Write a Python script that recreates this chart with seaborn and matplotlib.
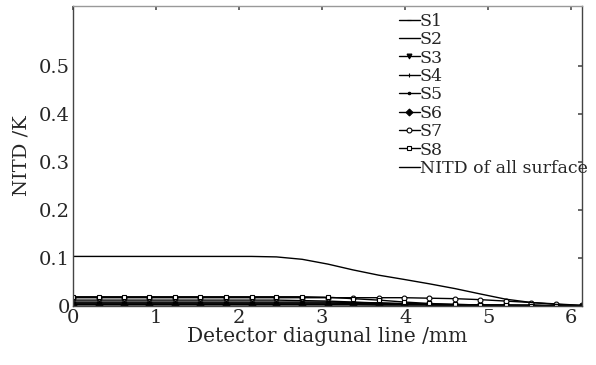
import numpy as np
import pandas as pd
import matplotlib
matplotlib.use('Agg')
import matplotlib.pyplot as plt
import seaborn as sns
from matplotlib.ticker import FormatStrFormatter

# detector diagonal positions (mm)
pos = [0.0, 0.31, 0.61, 0.92, 1.23, 1.53, 1.84, 2.15, 2.45, 2.76, 3.07,
       3.37, 3.68, 3.99, 4.29, 4.60, 4.90, 5.21, 5.52, 5.82, 6.13]

s1 = [0.012, 0.012, 0.012, 0.012, 0.012, 0.012, 0.012, 0.012, 0.012, 0.011, 0.010,
      0.008, 0.006, 0.004, 0.003, 0.002, 0.001, 0.001, 0.000, 0.000, 0.000]
s2 = [0.006, 0.006, 0.006, 0.006, 0.006, 0.006, 0.006, 0.006, 0.006, 0.006, 0.006,
      0.005, 0.005, 0.004, 0.003, 0.002, 0.001, 0.001, 0.001, 0.000, 0.000]
s3 = [0.004, 0.004, 0.004, 0.004, 0.004, 0.004, 0.004, 0.004, 0.004, 0.004, 0.004,
      0.004, 0.003, 0.003, 0.003, 0.002, 0.002, 0.001, 0.001, 0.000, 0.000]
s4 = [0.008, 0.008, 0.008, 0.008, 0.008, 0.008, 0.008, 0.008, 0.008, 0.008, 0.008,
      0.007, 0.006, 0.005, 0.004, 0.003, 0.002, 0.001, 0.001, 0.000, 0.000]
s5 = [0.003, 0.003, 0.003, 0.003, 0.003, 0.003, 0.003, 0.003, 0.003, 0.003, 0.003,
      0.003, 0.002, 0.002, 0.002, 0.001, 0.001, 0.001, 0.001, 0.001, 0.000]
s6 = [0.002, 0.002, 0.002, 0.002, 0.002, 0.002, 0.002, 0.002, 0.002, 0.002, 0.002,
      0.002, 0.002, 0.002, 0.002, 0.001, 0.001, 0.001, 0.001, 0.000, 0.000]
s7 = [0.017, 0.017, 0.017, 0.017, 0.017, 0.017, 0.017, 0.017, 0.017, 0.017, 0.017,
      0.017, 0.017, 0.017, 0.016, 0.015, 0.013, 0.010, 0.007, 0.004, 0.001]
s8 = [0.019, 0.019, 0.019, 0.019, 0.019, 0.019, 0.019, 0.019, 0.019, 0.019, 0.018,
      0.015, 0.012, 0.008, 0.005, 0.003, 0.002, 0.001, 0.000, 0.000, 0.000]
nitd_all = [0.103, 0.103, 0.103, 0.103, 0.103, 0.103, 0.103, 0.103, 0.102, 0.097, 0.087,
            0.075, 0.064, 0.055, 0.046, 0.036, 0.025, 0.014, 0.007, 0.003, 0.001]

series = {
    'S1': (s1, '_'),
    'S2': (s2, None),
    'S3': (s3, 'v'),
    'S4': (s4, '|'),
    'S5': (s5, '.'),
    'S6': (s6, 'D'),
    'S7': (s7, 'o'),
    'S8': (s8, 's'),
    'NITD of all surface': (nitd_all, None),
}

sns.set_theme(style="white")
plt.rcParams['font.family'] = ['DejaVu Serif']
plt.rcParams['mathtext.fontset'] = 'dejavuserif'

fig = plt.figure(figsize=(5.96, 3.65), dpi=100)
ax = fig.add_axes([0.1225, 0.162, 0.854, 0.822])

for name, (vals, mk) in series.items():
    df = pd.DataFrame({'pos': pos, 'val': vals})
    kw = dict(marker=mk, markersize=3.5, markerfacecolor='white' if mk in ('o', 's') else 'black',
              markeredgecolor='black', markeredgewidth=0.8) if mk else {}
    sns.lineplot(data=df, x='pos', y='val', ax=ax, color='black', linewidth=1.0,
                 label=name, **kw)

ax.set_xlim(0, 6.13)
ax.set_ylim(0, 0.625)
ax.set_xticks(range(0, 7))
ax.set_yticks([0, 0.1, 0.2, 0.3, 0.4, 0.5])
ax.yaxis.set_major_formatter(FormatStrFormatter('%g'))
ax.tick_params(direction='in', length=3, labelsize=14, top=True, right=True,
               color='#555555', pad=2)
for sp in ax.spines.values():
    sp.set_color('#444444')
    sp.set_linewidth(1.0)
ax.spines['top'].set_color('#999999')

ax.set_xlabel('Detector diagunal line /mm', fontsize=14.5, labelpad=0)
ax.set_ylabel('NITD /K', fontsize=14, labelpad=6)

leg = ax.legend(loc='upper right', frameon=False, fontsize=12.5, handlelength=1.2,
                handletextpad=0.0, labelspacing=0.08, borderaxespad=0.0,
                bbox_to_anchor=(1.025, 1.0))
for h in leg.legend_handles:
    h.set_linewidth(1.0)

fig.savefig('out.png', dpi=100)
